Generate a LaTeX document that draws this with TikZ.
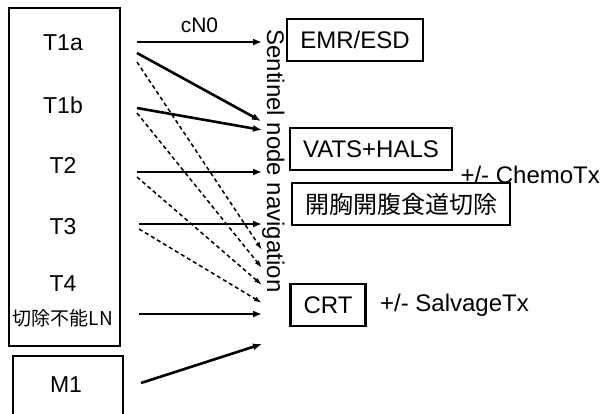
\documentclass[tikz,border=0pt]{standalone}
\usepackage{fontspec}
\setmainfont{Liberation Sans}
\newfontfamily\jpfont{Noto Sans CJK JP}
\usetikzlibrary{arrows.meta, positioning}

\begin{document}
\begin{tikzpicture}[x=1pt, y=-1pt,
  box/.style={draw, line width=2.2pt, inner xsep=13pt, inner ysep=0pt, minimum height=42pt, font=\fontsize{24}{28}\selectfont},
  stagebox/.style={draw, line width=2.2pt, anchor=north west},
  lbl/.style={font=\fontsize{23}{27}\selectfont},
  arr/.style={line width=2.6pt, -{Latex[length=9pt,width=7pt]}},
  darr/.style={line width=1.5pt, dash pattern=on 4pt off 3pt, -{Latex[length=8pt,width=5pt]}}]

  \useasboundingbox (0,0) rectangle (606,413);
  \clip (0,0) rectangle (606,413);

  % left side: stages
  \node[stagebox, minimum width=111pt, minimum height=338pt] (stages) at (8,7) {};
  \node[stagebox, minimum width=110pt, minimum height=80pt] (m1box) at (12,355) {};
  \node[lbl] (t1a) at (63,43) {T1a};
  \node[lbl] (t1b) at (63,105) {T1b};
  \node[lbl] (t2) at (63,165) {T2};
  \node[lbl] (t3) at (63,227) {T3};
  \node[lbl] (t4) at (63,284) {T4};
  \node[font=\jpfont\fontsize{19}{22}\selectfont] (uln) at (63,318) {切除不能LN};
  \node[lbl] (m1) at (66,385) {M1};

  % middle
  \node[rotate=-90, anchor=base, font=\fontsize{24}{28}\selectfont] (sln) at (267,161) {Sentinel node navigation};

  % right side: treatments
  \node[box] (emr) at (355,40) {EMR/ESD};
  \node[box] (vats) at (371,149) {VATS+HALS};
  \node[anchor=west, font=\fontsize{24}{28}\selectfont] (chemo) at ([xshift=4pt, yshift=-4pt]vats.south east) {+/- ChemoTx};
  \node[box, font=\jpfont\fontsize{24}{28}\selectfont] (open) at (401,204) {開胸開腹食道切除};
  \node[box] (crt) at (328,305) {CRT};
  \node[right=10pt of crt, font=\fontsize{24}{28}\selectfont] (salvage) {+/- SalvageTx};

  % arrow ends
  \coordinate (s1) at (137,42);   \coordinate (e1) at (262,42);
  \coordinate (s2) at (137,53);   \coordinate (e2) at (261,121);
  \coordinate (s3) at (137,108);  \coordinate (e3) at (262,130);
  \coordinate (s4) at (137,172);  \coordinate (e4) at (262,172);
  \coordinate (s5) at (139,224);  \coordinate (e5) at (262,224);
  \coordinate (s6) at (139,314);  \coordinate (e6) at (262,314);
  \coordinate (s7) at (141,383);  \coordinate (e7) at (262,344);
  \coordinate (d1) at (137,62);   \coordinate (f1) at (262,250);
  \coordinate (d2) at (137,113);  \coordinate (f2) at (262,268);
  \coordinate (d3) at (137,177);  \coordinate (f3) at (262,285);
  \coordinate (d4) at (139,229);  \coordinate (f4) at (262,303);

  \draw[arr] (s1) -- node[above=8pt, inner sep=0pt, font=\fontsize{21}{24}\selectfont] (cn0) {cN0} (e1);
  \draw[arr] (s2) -- (e2);
  \draw[arr] (s3) -- (e3);
  \draw[arr] (s4) -- (e4);
  \draw[arr] (s5) -- (e5);
  \draw[arr] (s6) -- (e6);
  \draw[arr] (s7) -- (e7);
  \draw[darr] (d1) -- (f1);
  \draw[darr] (d2) -- (f2);
  \draw[darr] (d3) -- (f3);
  \draw[darr] (d4) -- (f4);
\end{tikzpicture}
\end{document}
